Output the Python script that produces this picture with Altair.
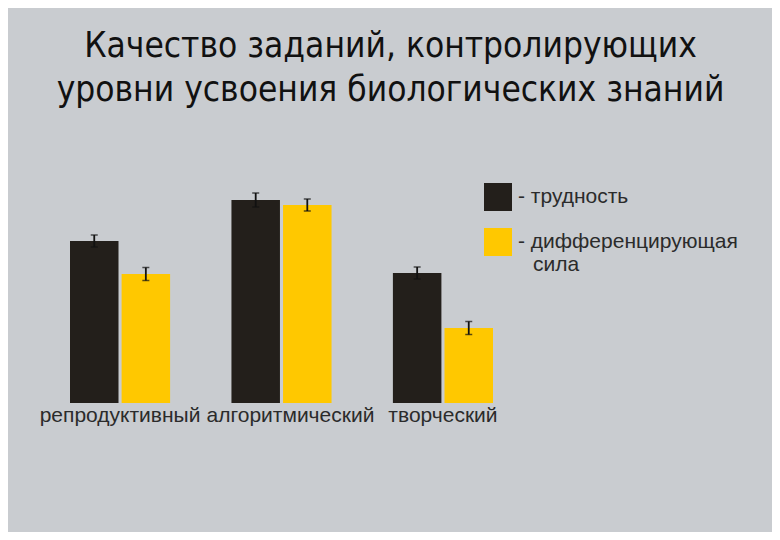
import altair as alt
import pandas as pd

categories = ["репродуктивный", "алгоритмический", "творческий"]
series_names = ["- трудность", "- дифференцирующая|\u2800сила"]
difficulty = [0.648, 0.812, 0.520]
difficulty_err = [0.024, 0.028, 0.024]
discrimination = [0.516, 0.792, 0.300]
discrimination_err = [0.026, 0.024, 0.026]

rows = []
for i, c in enumerate(categories):
    rows.append({"cat": c, "series": series_names[0], "value": difficulty[i], "err": difficulty_err[i]})
    rows.append({"cat": c, "series": series_names[1], "value": discrimination[i], "err": discrimination_err[i]})
df = pd.DataFrame(rows)

x = alt.X("cat:N", sort=categories, title=None,
          scale=alt.Scale(paddingInner=0.38, paddingOuter=0),
          axis=alt.Axis(domain=False, ticks=False, labelAngle=0, labelFontSize=21,
                        labelFont="Liberation Sans", labelColor="#2b2b2b", labelPadding=1,
                        labelOffset={"expr": "datum.label == 'алгоритмический' ? 9 : 0"}))
xo = alt.XOffset("series:N", sort=series_names, scale=alt.Scale(paddingInner=0.06))
ysc = alt.Scale(domain=[0, 1])

base = alt.Chart(df)

bars = base.mark_bar().encode(
    x=x, xOffset=xo,
    y=alt.Y("value:Q", scale=ysc, axis=None),
    color=alt.Color("series:N", sort=series_names,
                    scale=alt.Scale(domain=series_names, range=["#231f1b", "#ffc800"]),
                    legend=alt.Legend(title=None, orient="none", legendX=414, legendY=30,
                                      symbolType="square", symbolSize=784, symbolStrokeWidth=0,
                                      symbolOpacity=1, labelFontSize=21, labelFont="Liberation Sans",
                                      labelColor="#2b2b2b", labelOffset=6, rowPadding=17,
                                      padding=0, labelLimit=400,
                                      labelExpr="split(datum.label, '|')")),
)

err = base.transform_calculate(lo="datum.value - datum.err", hi="datum.value + datum.err")

rules = err.mark_rule(color="#111111", strokeWidth=1.8).encode(
    x=x, xOffset=xo, y=alt.Y("lo:Q", scale=ysc), y2="hi:Q")
caps_lo = err.mark_tick(color="#111111", orient="horizontal", size=7, thickness=1.5).encode(
    x=x, xOffset=xo, y=alt.Y("lo:Q", scale=ysc))
caps_hi = err.mark_tick(color="#111111", orient="horizontal", size=7, thickness=1.5).encode(
    x=x, xOffset=xo, y=alt.Y("hi:Q", scale=ysc))

chart = alt.layer(bars, rules, caps_lo, caps_hi).properties(
    width=423, height=250,
    title=alt.TitleParams(
        text=["Качество заданий, контролирующих", "уровни усвоения биологических знаний"],
        font="Liberation Sans Narrow, DejaVu Sans Condensed, Roboto Condensed, Roboto, sans-serif",
        fontSize=35, fontWeight="normal", color="#111111",
        anchor="middle", dx=109, offset=45, lineHeight=44),
    background="#c9ccd0",
    padding={"left": 62, "top": 145, "right": 279, "bottom": 129},
    autosize=alt.AutoSizeParams(type="none"),
).configure_view(stroke=None)

chart.save("out.html", embed_options={"renderer": "svg", "actions": False})
